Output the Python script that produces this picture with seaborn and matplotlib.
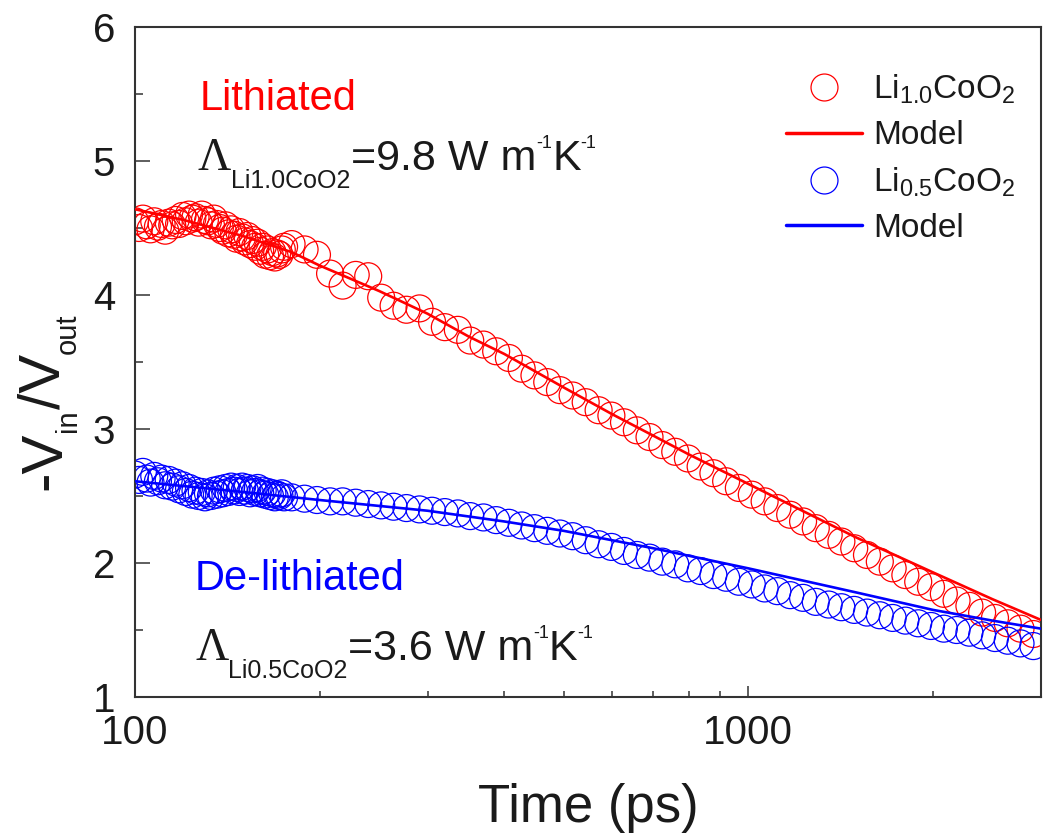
import matplotlib
matplotlib.use("Agg")
import matplotlib.pyplot as plt
import seaborn as sns
from matplotlib.lines import Line2D
from matplotlib.ticker import FixedLocator, FixedFormatter, NullFormatter
from matplotlib.transforms import IdentityTransform

# ---------------- data ----------------
time_ps = [100, 101.5, 103, 104.5, 106, 107.5, 109, 110.5, 112, 113.5,
           115, 116.5, 118, 119.5, 121, 122.5, 124, 125.5, 127, 128.5,
           130, 131.5, 133, 134.5, 136, 137.5, 139, 140.5, 142, 143.5,
           145, 146.5, 148, 149.5, 151, 152.5, 154, 155.5, 157, 158.5,
           160, 161.5, 163, 164.5, 166, 167.5, 169, 170.5, 172, 173.5,
           175,
           180, 189, 198, 208, 218, 229, 240, 252, 264, 277,
           291, 305, 320, 336, 352, 370, 388, 407, 427, 448,
           470, 493, 517, 543, 570, 598, 627, 658, 690, 724,
           760, 797, 836, 877, 920, 965, 1013, 1063, 1115, 1170,
           1228, 1288, 1352, 1418, 1488, 1561, 1638, 1719, 1803, 1892,
           1985, 2083, 2185, 2293, 2405, 2524, 2648, 2778, 2915]

li10_signal = [4.55, 4.50, 4.57, 4.52, 4.49, 4.55, 4.51, 4.53, 4.48, 4.54,
               4.52, 4.56, 4.53, 4.59, 4.55, 4.60, 4.57, 4.58, 4.54, 4.60,
               4.56, 4.55, 4.52, 4.57, 4.53, 4.50, 4.48, 4.52, 4.46, 4.49,
               4.45, 4.42, 4.47, 4.43, 4.40, 4.44, 4.38, 4.41, 4.36, 4.39,
               4.33, 4.36, 4.30, 4.34, 4.29, 4.32, 4.28, 4.31, 4.30, 4.34,
               4.36,
               4.38, 4.34, 4.30, 4.16, 4.07, 4.15, 4.14, 3.98, 3.92, 3.89,
               3.90, 3.80, 3.76, 3.74, 3.66, 3.63, 3.58, 3.53, 3.45, 3.40,
               3.35, 3.29, 3.25, 3.20, 3.14, 3.10, 3.05, 2.99, 2.94, 2.88,
               2.83, 2.78, 2.72, 2.67, 2.61, 2.56, 2.51, 2.46, 2.41, 2.36,
               2.31, 2.26, 2.21, 2.16, 2.11, 2.06, 2.01, 1.96, 1.91, 1.86,
               1.82, 1.77, 1.72, 1.68, 1.63, 1.59, 1.55, 1.51, 1.47]

li05_signal = [2.66, 2.62, 2.68, 2.63, 2.60, 2.65, 2.61, 2.63, 2.58, 2.62,
               2.57, 2.60, 2.55, 2.58, 2.53, 2.56, 2.51, 2.54, 2.50, 2.53,
               2.49, 2.52, 2.50, 2.54, 2.51, 2.55, 2.52, 2.56, 2.53, 2.57,
               2.54, 2.56, 2.53, 2.57, 2.54, 2.56, 2.52, 2.55, 2.53, 2.56,
               2.52, 2.54, 2.51, 2.53, 2.50, 2.52, 2.49, 2.51, 2.50, 2.52,
               2.49,
               2.49, 2.48, 2.47, 2.46, 2.46, 2.45, 2.44, 2.43, 2.42, 2.41,
               2.40, 2.39, 2.38, 2.37, 2.35, 2.34, 2.32, 2.30, 2.28, 2.26,
               2.24, 2.22, 2.20, 2.17, 2.14, 2.12, 2.09, 2.06, 2.04, 2.01,
               1.99, 1.96, 1.94, 1.91, 1.89, 1.86, 1.84, 1.81, 1.79, 1.76,
               1.74, 1.71, 1.69, 1.67, 1.65, 1.63, 1.61, 1.59, 1.57, 1.55,
               1.53, 1.51, 1.50, 1.48, 1.46, 1.44, 1.42, 1.40, 1.38]

model_time_li10 = [100, 120, 150, 180, 200, 250, 300, 350, 400, 500,
                   600, 700, 800, 1000, 1200, 1500, 2000, 2500, 3000]
model_li10 = [4.64, 4.56, 4.44, 4.32, 4.22, 4.03, 3.86, 3.69, 3.56, 3.31,
              3.11, 2.95, 2.81, 2.59, 2.41, 2.19, 1.93, 1.73, 1.575]

model_time_li05 = [100, 150, 200, 300, 400, 500, 700, 1000, 1500, 2000, 2500, 3000]
model_li05 = [2.61, 2.53, 2.47, 2.39, 2.31, 2.24, 2.11, 1.96, 1.78, 1.65, 1.57, 1.51]

x_major = [100, 1000]
x_major_labels = ["100", "1000"]
x_minor = [200, 300, 400, 500, 600, 700, 800, 900, 2000]
y_major = [1, 2, 3, 4, 5, 6]
y_minor = [1.5, 2.5, 3.5, 4.5, 5.5]

RED = "#ff0000"
BLUE = "#0000ff"
INK = "#1a1a1a"

# ---------------- style ----------------
sns.set_theme(style="ticks")
plt.rcParams["font.family"] = ["Liberation Sans", "DejaVu Sans"]
plt.rcParams["mathtext.fontset"] = "custom"
plt.rcParams["mathtext.rm"] = "Liberation Sans"
plt.rcParams["mathtext.it"] = "Liberation Sans:italic"

W, H = 1046, 839
fig = plt.figure(figsize=(W / 100, H / 100), dpi=100)
fig.patch.set_facecolor("white")
ax = fig.add_axes([135 / W, 1 - 697 / H, 906 / W, 670 / H])
ax.set_facecolor("white")

ms = 19.4
sns.scatterplot(x=time_ps, y=li10_signal, ax=ax, marker="o", s=ms ** 2,
                facecolors="none", edgecolor=RED, color=RED, linewidth=0.9,
                legend=False, zorder=2)
sns.scatterplot(x=time_ps, y=li05_signal, ax=ax, marker="o", s=ms ** 2,
                facecolors="none", edgecolor=BLUE, color=BLUE, linewidth=0.9,
                legend=False, zorder=2)
sns.lineplot(x=model_time_li10, y=model_li10, ax=ax, color=RED, linewidth=1.9,
             legend=False, zorder=3)
sns.lineplot(x=model_time_li05, y=model_li05, ax=ax, color=BLUE, linewidth=1.9,
             legend=False, zorder=3)

ax.set_xscale("log")
ax.set_xlim(100, 3000)
ax.set_ylim(1, 6)
ax.xaxis.set_major_locator(FixedLocator(x_major))
ax.xaxis.set_major_formatter(FixedFormatter(x_major_labels))
ax.xaxis.set_minor_locator(FixedLocator(x_minor))
ax.xaxis.set_minor_formatter(NullFormatter())
ax.yaxis.set_major_locator(FixedLocator(y_major))
ax.yaxis.set_minor_locator(FixedLocator(y_minor))
ax.yaxis.set_minor_formatter(NullFormatter())

ax.tick_params(axis="both", which="both", direction="in", top=False, right=False,
               colors="#333333", labelcolor=INK, labelsize=29, width=1.1)
ax.tick_params(axis="x", which="major", length=8, pad=12.6)
ax.tick_params(axis="x", which="minor", length=4.3)
ax.tick_params(axis="y", which="major", length=10.8, pad=14.4)
ax.tick_params(axis="y", which="minor", length=5.8)
for sp in ax.spines.values():
    sp.set_visible(True)
    sp.set_linewidth(1.5)
    sp.set_color("#333333")

ax.set_xlabel("Time (ps)", fontsize=38, color=INK, labelpad=22)
ax.set_ylabel("")

# ---------------- legend ----------------
handles = [
    Line2D([], [], marker="o", ls="", mfc="none", mec=RED, ms=ms, mew=0.9),
    Line2D([], [], color=RED, lw=2.5),
    Line2D([], [], marker="o", ls="", mfc="none", mec=BLUE, ms=ms, mew=0.9),
    Line2D([], [], color=BLUE, lw=2.5),
]
labels = [r"Li$_{\mathregular{1.0}}$CoO$_{\mathregular{2}}$", "Model",
          r"Li$_{\mathregular{0.5}}$CoO$_{\mathregular{2}}$", "Model"]
leg = ax.legend(handles, labels, loc="upper left",
                bbox_to_anchor=((786 - 135) / 906, (697 - 73) / 670),
                bbox_transform=ax.transAxes, frameon=False, fontsize=24,
                handlelength=2.28, handletextpad=0.33, labelspacing=0.42,
                borderpad=0, borderaxespad=0)
for t in leg.get_texts():
    t.set_color(INK)

# ---------------- text runs ----------------
fig.canvas.draw()
renderer = fig.canvas.get_renderer()


def draw_runs(x0, y0, runs, rotation=0):
    """x0, y0: image-pixel coordinates (origin top-left) of the baseline start."""
    pos = 0.0
    for text, size, shift, family, color in runs:
        if rotation == 0:
            px, py = x0 + pos, (H - y0) + shift
        else:
            px, py = x0 - shift, (H - y0) + pos
        t = fig.text(px, py, text, transform=IdentityTransform(), fontsize=size,
                     family=family, color=color, ha="left", va="baseline",
                     rotation=rotation, rotation_mode="anchor")
        bb = t.get_window_extent(renderer)
        pos += bb.width if rotation == 0 else bb.height


SANS = ["Liberation Sans", "DejaVu Sans"]
SERIF = ["Liberation Serif", "DejaVu Serif"]

# y label: -V_in/V_out
draw_runs(60, 490, [("-V", 42, 0, SANS, INK), ("in", 21, -16, SANS, INK),
                    ("/V", 42, 0, SANS, INK), ("out", 21, -16, SANS, INK)],
          rotation=90)

draw_runs(200, 110, [("Lithiated", 30, 0, SANS, RED)])
draw_runs(198, 170, [("\u039b", 33, 0, SERIF, INK),
                     ("Li1.0CoO2", 18, -18, SANS, INK),
                     ("=9.8 W m", 31, 0, SANS, INK),
                     ("-1", 13, 22, SANS, INK),
                     ("K", 31, 0, SANS, INK),
                     ("-1", 13, 22, SANS, INK)])

draw_runs(195, 590, [("De-lithiated", 30, 0, SANS, BLUE)])
draw_runs(195, 660, [("\u039b", 33, 0, SERIF, INK),
                     ("Li0.5CoO2", 18, -18, SANS, INK),
                     ("=3.6 W m", 31, 0, SANS, INK),
                     ("-1", 13, 22, SANS, INK),
                     ("K", 31, 0, SANS, INK),
                     ("-1", 13, 22, SANS, INK)])

fig.savefig("out.png", dpi=100, facecolor="white")
